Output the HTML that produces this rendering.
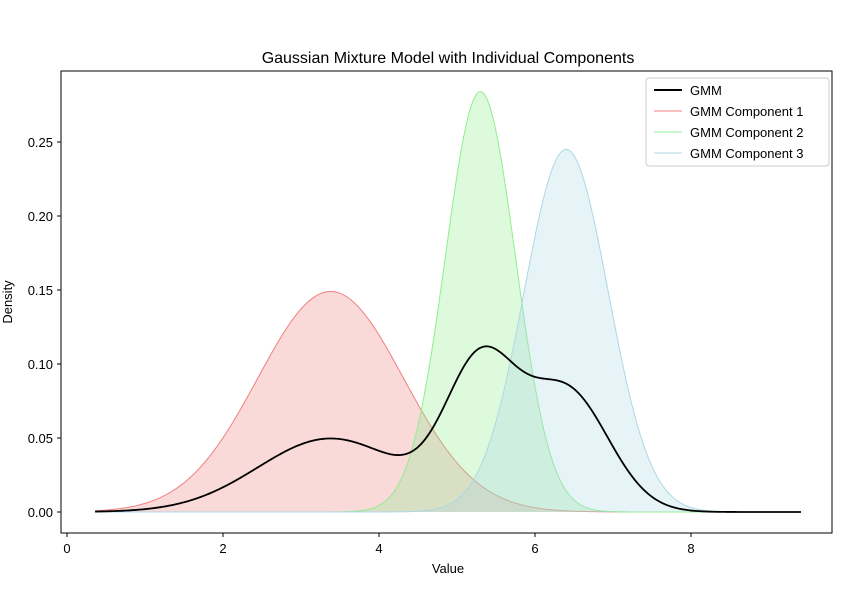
<!DOCTYPE html>
<html><head><meta charset="utf-8"><style>
body{margin:0;background:#fff;}
svg text{font-family:"Liberation Sans","DejaVu Sans",sans-serif;fill:#000;}
</style></head><body>
<svg id="chart" width="842" height="599" viewBox="0 0 842 599" xmlns="http://www.w3.org/2000/svg">
<rect width="842" height="599" fill="#fff"/>
<text x="448" y="63" font-size="16" text-anchor="middle">Gaussian Mixture Model with Individual Components</text>
<g id="marks"></g>
<rect x="61" y="71" width="771" height="462" fill="none" stroke="#000" stroke-width="1"/>
<g id="axes"></g>
<text x="448" y="573" font-size="13" text-anchor="middle">Value</text>
<text x="12" y="302" font-size="13" text-anchor="middle" transform="rotate(-90 12 302)">Density</text>
<g>
<rect x="646" y="78" width="183" height="88" rx="3" fill="#fff" fill-opacity="0.8" stroke="#ccc"/>
<line x1="654" y1="90" x2="682" y2="90" stroke="#000" stroke-width="2"/>
<text x="690" y="95" font-size="13">GMM</text>
<line x1="654" y1="111" x2="682" y2="111" stroke="#f08080" stroke-width="1"/>
<text x="690" y="116" font-size="13">GMM Component 1</text>
<line x1="654" y1="132" x2="682" y2="132" stroke="#90ee90" stroke-width="1"/>
<text x="690" y="137" font-size="13">GMM Component 2</text>
<line x1="654" y1="153" x2="682" y2="153" stroke="#add8e6" stroke-width="1"/>
<text x="690" y="158" font-size="13">GMM Component 3</text>
</g>
</svg>
<script>
const componentNames = ["component-1","component-2","component-3"];
const componentMeans = [3.38, 5.30, 6.40];
const componentSigmas = [0.935, 0.45, 0.54];
const componentPeaks = [0.149, 0.284, 0.245];
const componentColors = ["#f08080","#90ee90","#add8e6"];
const xRange = [0.36, 9.41];
const xTicks = [0, 2, 4, 6, 8];
const yTicks = [0.00, 0.05, 0.10, 0.15, 0.20, 0.25];

const sx = v => 67 + v * 78;
const sy = v => 512 - v * 1480;
const NS = "http://www.w3.org/2000/svg";
const marks = document.getElementById("marks");
const axes = document.getElementById("axes");
function mk(tag, attrs, parent){const e=document.createElementNS(NS,tag);for(const k in attrs)e.setAttribute(k,attrs[k]);parent.appendChild(e);return e;}
const N = 400;
const xs = [];
for (let i=0;i<=N;i++) xs.push(xRange[0] + (xRange[1]-xRange[0])*i/N);
const comp = (k,x) => componentPeaks[k]*Math.exp(-((x-componentMeans[k])**2)/(2*componentSigmas[k]**2));
componentNames.forEach((nm,k)=>{
  let d = "";
  xs.forEach((x,i)=>{ d += (i?"L":"M") + sx(x).toFixed(2) + "," + sy(comp(k,x)).toFixed(2); });
  const fillD = d + "L" + sx(xRange[1]) + "," + sy(0) + "L" + sx(xRange[0]) + "," + sy(0) + "Z";
  const f = mk("path",{d:fillD,fill:componentColors[k],"fill-opacity":0.3,stroke:"none"},marks);
  
  
  const l = mk("path",{d:d,fill:"none",stroke:componentColors[k],"stroke-width":1},marks);
  
  
});
let gd = "";
xs.forEach((x,i)=>{ let s=0; for(let k=0;k<componentNames.length;k++) s+=comp(k,x); gd += (i?"L":"M") + sx(x).toFixed(2) + "," + sy(s/componentNames.length).toFixed(2); });
const g = mk("path",{d:gd,fill:"none",stroke:"#000","stroke-width":1.8},marks);


xTicks.forEach(t=>{
  mk("line",{x1:sx(t),x2:sx(t),y1:533,y2:537,stroke:"#000"},axes);
  const tx = mk("text",{x:sx(t),y:553,"font-size":13,"text-anchor":"middle"},axes);
  tx.textContent = t;
  
  
});
yTicks.forEach(t=>{
  mk("line",{x1:57,x2:61,y1:sy(t),y2:sy(t),stroke:"#000"},axes);
  const tx = mk("text",{x:53,y:sy(t)+5,"font-size":13,"text-anchor":"end"},axes);
  tx.textContent = t.toFixed(2);
  
  
});
</script>
</body></html>
